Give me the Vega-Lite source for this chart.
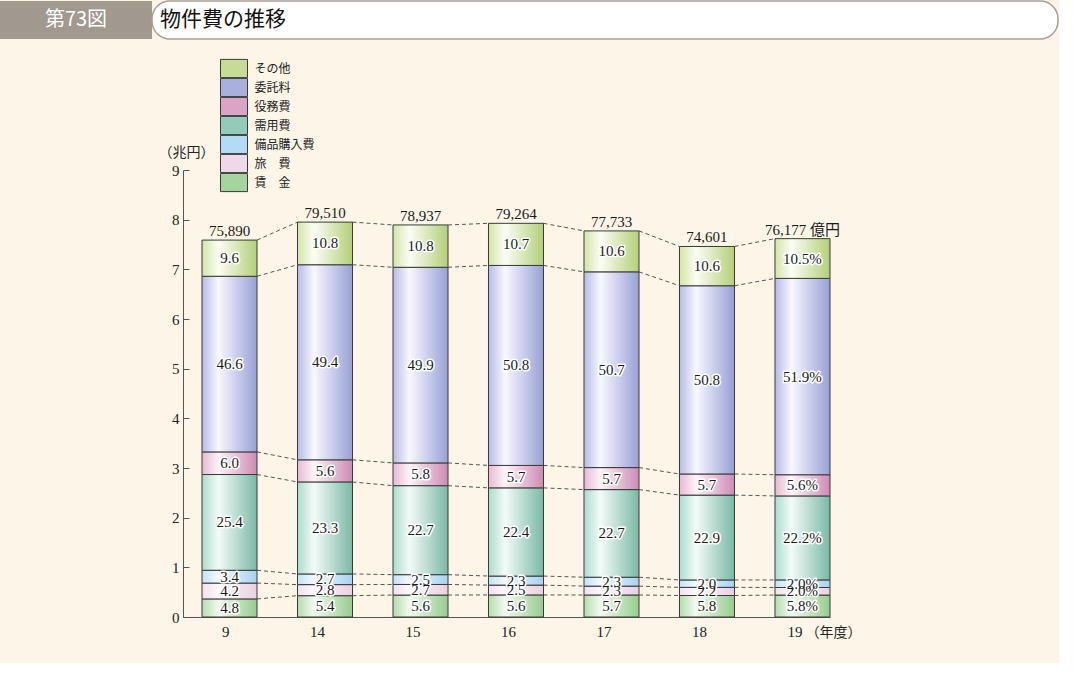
{
  "$schema": "https://vega.github.io/schema/vega-lite/v6.json",
  "padding": {"left": 0, "top": 0, "right": 0, "bottom": 24},
  "background": "#fdf6e8",
  "spacing": 169,
  "bounds": "flush",
  "resolve": {"scale": {"color": "independent"}, "legend": {"color": "independent"}},
  "config": {"view": {"stroke": null}, "font": "Noto Sans CJK JP"},
  "datasets": {
    "bars": [
      {"year": 9, "cat": "賃　金", "order": 1, "value": 0.3643, "label": "4.8"},
      {"year": 9, "cat": "旅　費", "order": 2, "value": 0.3187, "label": "4.2"},
      {"year": 9, "cat": "備品購入費", "order": 3, "value": 0.2580, "label": "3.4"},
      {"year": 9, "cat": "需用費", "order": 4, "value": 1.9276, "label": "25.4"},
      {"year": 9, "cat": "役務費", "order": 5, "value": 0.4553, "label": "6.0"},
      {"year": 9, "cat": "委託料", "order": 6, "value": 3.5365, "label": "46.6"},
      {"year": 9, "cat": "その他", "order": 7, "value": 0.7285, "label": "9.6"},
      {"year": 14, "cat": "賃　金", "order": 1, "value": 0.4294, "label": "5.4"},
      {"year": 14, "cat": "旅　費", "order": 2, "value": 0.2226, "label": "2.8"},
      {"year": 14, "cat": "備品購入費", "order": 3, "value": 0.2147, "label": "2.7"},
      {"year": 14, "cat": "需用費", "order": 4, "value": 1.8526, "label": "23.3"},
      {"year": 14, "cat": "役務費", "order": 5, "value": 0.4453, "label": "5.6"},
      {"year": 14, "cat": "委託料", "order": 6, "value": 3.9278, "label": "49.4"},
      {"year": 14, "cat": "その他", "order": 7, "value": 0.8587, "label": "10.8"},
      {"year": 15, "cat": "賃　金", "order": 1, "value": 0.4420, "label": "5.6"},
      {"year": 15, "cat": "旅　費", "order": 2, "value": 0.2131, "label": "2.7"},
      {"year": 15, "cat": "備品購入費", "order": 3, "value": 0.1973, "label": "2.5"},
      {"year": 15, "cat": "需用費", "order": 4, "value": 1.7919, "label": "22.7"},
      {"year": 15, "cat": "役務費", "order": 5, "value": 0.4578, "label": "5.8"},
      {"year": 15, "cat": "委託料", "order": 6, "value": 3.9390, "label": "49.9"},
      {"year": 15, "cat": "その他", "order": 7, "value": 0.8525, "label": "10.8"},
      {"year": 16, "cat": "賃　金", "order": 1, "value": 0.4439, "label": "5.6"},
      {"year": 16, "cat": "旅　費", "order": 2, "value": 0.1982, "label": "2.5"},
      {"year": 16, "cat": "備品購入費", "order": 3, "value": 0.1823, "label": "2.3"},
      {"year": 16, "cat": "需用費", "order": 4, "value": 1.7755, "label": "22.4"},
      {"year": 16, "cat": "役務費", "order": 5, "value": 0.4518, "label": "5.7"},
      {"year": 16, "cat": "委託料", "order": 6, "value": 4.0266, "label": "50.8"},
      {"year": 16, "cat": "その他", "order": 7, "value": 0.8481, "label": "10.7"},
      {"year": 17, "cat": "賃　金", "order": 1, "value": 0.4431, "label": "5.7"},
      {"year": 17, "cat": "旅　費", "order": 2, "value": 0.1788, "label": "2.3"},
      {"year": 17, "cat": "備品購入費", "order": 3, "value": 0.1788, "label": "2.3"},
      {"year": 17, "cat": "需用費", "order": 4, "value": 1.7645, "label": "22.7"},
      {"year": 17, "cat": "役務費", "order": 5, "value": 0.4431, "label": "5.7"},
      {"year": 17, "cat": "委託料", "order": 6, "value": 3.9411, "label": "50.7"},
      {"year": 17, "cat": "その他", "order": 7, "value": 0.8240, "label": "10.6"},
      {"year": 18, "cat": "賃　金", "order": 1, "value": 0.4327, "label": "5.8"},
      {"year": 18, "cat": "旅　費", "order": 2, "value": 0.1641, "label": "2.2"},
      {"year": 18, "cat": "備品購入費", "order": 3, "value": 0.1492, "label": "2.0"},
      {"year": 18, "cat": "需用費", "order": 4, "value": 1.7084, "label": "22.9"},
      {"year": 18, "cat": "役務費", "order": 5, "value": 0.4252, "label": "5.7"},
      {"year": 18, "cat": "委託料", "order": 6, "value": 3.7897, "label": "50.8"},
      {"year": 18, "cat": "その他", "order": 7, "value": 0.7908, "label": "10.6"},
      {"year": 19, "cat": "賃　金", "order": 1, "value": 0.4418, "label": "5.8%"},
      {"year": 19, "cat": "旅　費", "order": 2, "value": 0.1524, "label": "2.0%"},
      {"year": 19, "cat": "備品購入費", "order": 3, "value": 0.1524, "label": "2.0%"},
      {"year": 19, "cat": "需用費", "order": 4, "value": 1.6911, "label": "22.2%"},
      {"year": 19, "cat": "役務費", "order": 5, "value": 0.4266, "label": "5.6%"},
      {"year": 19, "cat": "委託料", "order": 6, "value": 3.9536, "label": "51.9%"},
      {"year": 19, "cat": "その他", "order": 7, "value": 0.7999, "label": "10.5%"}
    ],
    "totals": [
      {"year": 9, "total": 7.5890, "label": "75,890"},
      {"year": 14, "total": 7.9510, "label": "79,510"},
      {"year": 15, "total": 7.8937, "label": "78,937"},
      {"year": 16, "total": 7.9264, "label": "79,264"},
      {"year": 17, "total": 7.7733, "label": "77,733"},
      {"year": 18, "total": 7.4601, "label": "74,601"},
      {"year": 19, "total": 7.6177, "label": "76,177 億円"}
    ]
  },
  "vconcat": [
    {
      "hconcat": [
        {
          "width": 152, "height": 38,
          "view": {"fill": "#a1988f", "stroke": null},
          "data": {"values": [{"t": "第73図"}]},
          "mark": {"type": "text", "color": "#ffffff", "fontSize": 20, "font": "Noto Sans CJK JP"},
          "encoding": {"text": {"field": "t", "type": "nominal"}}
        },
        {
          "width": 906, "height": 38,
          "view": {"fill": "#ffffff", "stroke": "#a89e96", "strokeWidth": 1.5, "cornerRadius": 18},
          "data": {"values": [{"t": "物件費の推移"}]},
          "mark": {"type": "text", "align": "left", "fontSize": 21, "color": "#111111", "dx": 8, "font": "Noto Sans CJK JP"},
          "encoding": {
            "text": {"field": "t", "type": "nominal"},
            "x": {"datum": 0, "type": "quantitative", "scale": {"domain": [0, 1]}, "axis": null}
          }
        }
      ],
      "spacing": 0,
      "bounds": "flush"
    },
    {
      "hconcat": [
        {"width": 183, "height": 447, "data": {"values": []}, "mark": "point"},
        {
          "width": 647, "height": 447,
          "layer": [
            {
              "data": {"name": "bars"},
              "mark": {"type": "bar", "opacity": 0},
              "encoding": {
                "x": {"field": "year", "type": "ordinal", "scale": {"domain": [9, 14, 15, 16, 17, 18, 19], "paddingInner": 0.424, "paddingOuter": 0.0995, "align": 1}},
                "y": {"field": "value", "type": "quantitative", "stack": "zero", "scale": {"domain": [0, 9], "nice": false}},
                "color": {
                  "field": "cat", "type": "nominal",
                  "scale": {
                    "domain": ["その他", "委託料", "役務費", "需用費", "備品購入費", "旅　費", "賃　金"],
                    "range": ["#c6dc96", "#aab0de", "#dba3c6", "#93cbb9", "#b3dbf5", "#efd8e7", "#a6d49e"]
                  },
                  "legend": {
                    "title": null, "orient": "none", "legendX": 43.5, "legendY": -109,
                    "symbolType": "M-1.93,-1.3H1.93V1.3H-1.93Z", "symbolSize": 196, "symbolStrokeColor": "#3a3a3a", "symbolStrokeWidth": 1,
                    "rowPadding": -5, "labelFont": "Noto Sans CJK JP", "labelFontSize": 12, "labelColor": "#222222", "labelOffset": 13, "padding": 0,
                    "encode": {
                      "symbols": {
                        "update": {
                          "opacity": {"value": 1},
                          "stroke": {"value": "#3a3a3a"},
                          "fill": [
                            {"test": "datum.value === 'その他'", "value": {"gradient": "linear", "x1": 0, "y1": 0, "x2": 1, "y2": 0, "stops": [{"offset": 0, "color": "#d3e5a8"}, {"offset": 0.3, "color": "#fbfdf4"}, {"offset": 1, "color": "#b3cf78"}]}},
                            {"test": "datum.value === '委託料'", "value": {"gradient": "linear", "x1": 0, "y1": 0, "x2": 1, "y2": 0, "stops": [{"offset": 0, "color": "#b6bce4"}, {"offset": 0.3, "color": "#f8f8fe"}, {"offset": 1, "color": "#98a0d6"}]}},
                            {"test": "datum.value === '役務費'", "value": {"gradient": "linear", "x1": 0, "y1": 0, "x2": 1, "y2": 0, "stops": [{"offset": 0, "color": "#e7b9d5"}, {"offset": 0.3, "color": "#fdf3f8"}, {"offset": 1, "color": "#cd8ab5"}]}},
                            {"test": "datum.value === '需用費'", "value": {"gradient": "linear", "x1": 0, "y1": 0, "x2": 1, "y2": 0, "stops": [{"offset": 0, "color": "#acdccc"}, {"offset": 0.3, "color": "#f3fbf8"}, {"offset": 1, "color": "#79b9a6"}]}},
                            {"test": "datum.value === '備品購入費'", "value": {"gradient": "linear", "x1": 0, "y1": 0, "x2": 1, "y2": 0, "stops": [{"offset": 0, "color": "#c1e3f7"}, {"offset": 0.3, "color": "#f4fafe"}, {"offset": 1, "color": "#a5d3f2"}]}},
                            {"test": "datum.value === '旅　費'", "value": {"gradient": "linear", "x1": 0, "y1": 0, "x2": 1, "y2": 0, "stops": [{"offset": 0, "color": "#f3e0ec"}, {"offset": 0.3, "color": "#fdf8fb"}, {"offset": 1, "color": "#ead0e2"}]}},
                            {"value": {"gradient": "linear", "x1": 0, "y1": 0, "x2": 1, "y2": 0, "stops": [{"offset": 0, "color": "#b5dcae"}, {"offset": 0.3, "color": "#f2faf0"}, {"offset": 1, "color": "#96cc8e"}]}}
                          ]
                        }
                      }
                    }
                  }
                },
                "order": {"field": "order", "type": "quantitative"}
              }
            },
            {
              "data": {"name": "bars"},
              "transform": [
                {"stack": "value", "groupby": ["year"], "sort": [{"field": "order"}], "as": ["v0", "v1"]},
                {"window": [{"op": "lead", "field": "v1", "as": "nv1"}, {"op": "lead", "field": "year", "as": "nyear"}], "groupby": ["cat"], "sort": [{"field": "year"}]},
                {"filter": "datum.nyear != null"}
              ],
              "mark": {"type": "rule", "strokeDash": [4, 3], "color": "#555555", "strokeWidth": 1},
              "encoding": {
                "x": {"field": "year", "type": "ordinal", "bandPosition": 1, "scale": {"domain": [9, 14, 15, 16, 17, 18, 19], "paddingInner": 0.424, "paddingOuter": 0.0995, "align": 1}},
                "x2": {"field": "nyear", "bandPosition": 0},
                "y": {"field": "v1", "type": "quantitative", "scale": {"domain": [0, 9], "nice": false}},
                "y2": {"field": "nv1"}
              }
            },
            {
              "data": {"name": "bars"},
              "mark": {"type": "bar", "stroke": "#3a3a3a", "strokeWidth": 1},
              "encoding": {
                "x": {
                  "field": "year", "type": "ordinal",
                  "scale": {"domain": [9, 14, 15, 16, 17, 18, 19], "paddingInner": 0.424, "paddingOuter": 0.0995, "align": 1},
                  "axis": {"title": "（年度）", "titleX": 622, "titleY": 15, "titleAlign": "left", "titleBaseline": "middle", "titleFont": "Noto Sans CJK JP", "titleFontSize": 14, "titleFontWeight": "normal", "titleColor": "#222222", "ticks": false, "labelAngle": 0, "labelFont": "Liberation Serif", "labelFontSize": 15, "labelColor": "#222222", "labelPadding": 14, "domainColor": "#555555"}
                },
                "y": {
                  "field": "value", "type": "quantitative", "stack": "zero",
                  "scale": {"domain": [0, 9], "nice": false},
                  "axis": {"title": "（兆円）", "titleAngle": 0, "titleX": 3, "titleY": -18, "titleAlign": "center", "titleBaseline": "middle", "titleFont": "Noto Sans CJK JP", "titleFontSize": 14, "titleFontWeight": "normal", "titleColor": "#222222", "values": [0, 1, 2, 3, 4, 5, 6, 7, 8, 9], "grid": false, "domainColor": "#555555", "tickColor": "#555555", "tickSize": -6, "labelFont": "Liberation Serif", "labelFontSize": 15, "labelColor": "#222222", "labelPadding": 10}
                },
                "fill": {
                  "condition": [
                    {"test": "datum.cat === 'その他'", "value": {"gradient": "linear", "x1": 0, "y1": 0, "x2": 1, "y2": 0, "stops": [{"offset": 0, "color": "#d3e5a8"}, {"offset": 0.3, "color": "#fbfdf4"}, {"offset": 1, "color": "#b3cf78"}]}},
                    {"test": "datum.cat === '委託料'", "value": {"gradient": "linear", "x1": 0, "y1": 0, "x2": 1, "y2": 0, "stops": [{"offset": 0, "color": "#b6bce4"}, {"offset": 0.3, "color": "#f8f8fe"}, {"offset": 1, "color": "#98a0d6"}]}},
                    {"test": "datum.cat === '役務費'", "value": {"gradient": "linear", "x1": 0, "y1": 0, "x2": 1, "y2": 0, "stops": [{"offset": 0, "color": "#e7b9d5"}, {"offset": 0.3, "color": "#fdf3f8"}, {"offset": 1, "color": "#cd8ab5"}]}},
                    {"test": "datum.cat === '需用費'", "value": {"gradient": "linear", "x1": 0, "y1": 0, "x2": 1, "y2": 0, "stops": [{"offset": 0, "color": "#acdccc"}, {"offset": 0.3, "color": "#f3fbf8"}, {"offset": 1, "color": "#79b9a6"}]}},
                    {"test": "datum.cat === '備品購入費'", "value": {"gradient": "linear", "x1": 0, "y1": 0, "x2": 1, "y2": 0, "stops": [{"offset": 0, "color": "#c1e3f7"}, {"offset": 0.3, "color": "#f4fafe"}, {"offset": 1, "color": "#a5d3f2"}]}},
                    {"test": "datum.cat === '旅　費'", "value": {"gradient": "linear", "x1": 0, "y1": 0, "x2": 1, "y2": 0, "stops": [{"offset": 0, "color": "#f3e0ec"}, {"offset": 0.3, "color": "#fdf8fb"}, {"offset": 1, "color": "#ead0e2"}]}}
                  ],
                  "value": {"gradient": "linear", "x1": 0, "y1": 0, "x2": 1, "y2": 0, "stops": [{"offset": 0, "color": "#b5dcae"}, {"offset": 0.3, "color": "#f2faf0"}, {"offset": 1, "color": "#96cc8e"}]}
                },
                "order": {"field": "order", "type": "quantitative"}
              }
            },
            {
              "data": {"name": "bars"},
              "mark": {"type": "text", "font": "Liberation Serif", "fontSize": 15, "stroke": "#ffffff", "strokeWidth": 3, "strokeJoin": "round", "fill": "#ffffff"},
              "encoding": {
                "x": {"field": "year", "type": "ordinal", "scale": {"domain": [9, 14, 15, 16, 17, 18, 19], "paddingInner": 0.424, "paddingOuter": 0.0995, "align": 1}},
                "y": {"field": "value", "type": "quantitative", "stack": "zero", "bandPosition": 0.5, "scale": {"domain": [0, 9], "nice": false}},
                "detail": {"field": "cat"},
                "order": {"field": "order", "type": "quantitative"},
                "text": {"field": "label", "type": "nominal"}
              }
            },
            {
              "data": {"name": "bars"},
              "mark": {"type": "text", "font": "Liberation Serif", "fontSize": 15, "fill": "#1a1a1a"},
              "encoding": {
                "x": {"field": "year", "type": "ordinal", "scale": {"domain": [9, 14, 15, 16, 17, 18, 19], "paddingInner": 0.424, "paddingOuter": 0.0995, "align": 1}},
                "y": {"field": "value", "type": "quantitative", "stack": "zero", "bandPosition": 0.5, "scale": {"domain": [0, 9], "nice": false}},
                "detail": {"field": "cat"},
                "order": {"field": "order", "type": "quantitative"},
                "text": {"field": "label", "type": "nominal"}
              }
            },
            {
              "data": {"name": "totals"},
              "mark": {"type": "text", "font": "Liberation Serif, Noto Sans CJK JP", "fontSize": 15, "fill": "#1a1a1a", "dy": -9},
              "encoding": {
                "x": {"field": "year", "type": "ordinal", "scale": {"domain": [9, 14, 15, 16, 17, 18, 19], "paddingInner": 0.424, "paddingOuter": 0.0995, "align": 1}},
                "y": {"field": "total", "type": "quantitative", "scale": {"domain": [0, 9], "nice": false}},
                "text": {"field": "label", "type": "nominal"}
              }
            }
          ]
        }
      ],
      "spacing": 0,
      "bounds": "flush",
      "resolve": {"scale": {"color": "independent"}, "legend": {"color": "independent"}}
    }
  ]
}
